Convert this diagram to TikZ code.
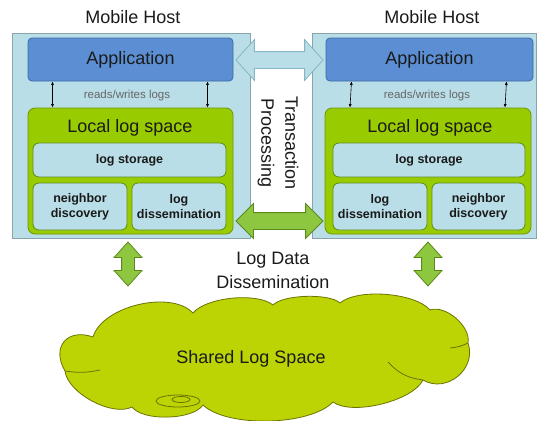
\documentclass[tikz,border=0pt]{standalone}
\usepackage{fontspec}
\setmainfont{Liberation Sans}
\usepackage{tikz}
\usetikzlibrary{shapes.arrows,arrows.meta,positioning}
\definecolor{hostfill}{HTML}{B9DEE7}
\definecolor{hostline}{HTML}{8AA4AC}
\definecolor{appfill}{HTML}{5B8ED2}
\definecolor{appline}{HTML}{3C6AAA}
\definecolor{logfill}{HTML}{99CC00}
\definecolor{logline}{HTML}{6E9600}
\definecolor{partline}{HTML}{5E8A18}
\definecolor{arrowgreen}{HTML}{8DC63F}
\definecolor{arrowline}{HTML}{5D8A1C}
\definecolor{cloudfill}{HTML}{BCD304}
\definecolor{cloudline}{HTML}{6B7400}
\definecolor{txline}{HTML}{86B6C3}
\definecolor{dark}{HTML}{1A1A1A}

\begin{document}
\begin{tikzpicture}[x=1pt, y=1pt,
    host/.style={rectangle, draw=hostline, fill=hostfill, line width=0.8pt, minimum height=205pt, inner sep=0pt},
    appbox/.style={rectangle, rounded corners=4pt, draw=appline, fill=appfill, line width=0.8pt, minimum height=43pt, inner sep=0pt, text=dark, font=\fontsize{18}{22}\selectfont},
    logspace/.style={rectangle, rounded corners=7pt, draw=logline, fill=logfill, line width=0.8pt, minimum height=126pt, inner sep=0pt},
    part/.style={rectangle, rounded corners=6pt, draw=partline, fill=hostfill, line width=0.8pt, inner sep=0pt, align=center, text=dark, font=\fontsize{12.5}{15}\selectfont\bfseries},
    bigtext/.style={text=dark, align=center, font=\fontsize{18}{24}\selectfont},
    rwtext/.style={text=black!60, font=\fontsize{11.5}{13}\selectfont},
    rw/.style={{Latex[length=3.5pt,width=3pt]}-{Latex[length=3.5pt,width=3pt]}, line width=0.6pt},
    greenarrow/.style={double arrow, draw=arrowline, fill=arrowgreen, line width=0.8pt, inner xsep=0pt},
    cloudedge/.style={draw=cloudline, line width=0.8pt}
]
    \useasboundingbox (0,0) rectangle (539,-421);

    \node[host, minimum width=238pt] (host1) at (131,-135.5) {};
    \node[host, minimum width=224pt] (host2) at (424,-135.5) {};
    \node[bigtext] (title1) at (133,-17) {Mobile Host};
    \node[bigtext] (title2) at (432,-17) {Mobile Host};

    \node[appbox, minimum width=205pt] (app1) at (130.5,-59.5) {Application};
    \node[appbox, minimum width=207pt] (app2) at (429.5,-59.5) {Application};

    \node[logspace, minimum width=205pt] (local1) at (130.5,-171) {};
    \node[logspace, minimum width=206pt] (local2) at (428,-171) {};
    \node[bigtext] (locallabel1) at (130,-128) {Local log space};
    \node[bigtext] (locallabel2) at (430,-128) {Local log space};

    \node[part, minimum width=193pt, minimum height=34pt] (storage1) at (129.5,-160) {log storage};
    \node[part, minimum width=192pt, minimum height=34pt] (storage2) at (429,-160) {log storage};
    \node[part, minimum width=94pt, minimum height=47pt] (neighbor1) at (80,-206.5) {neighbor\\discovery};
    \node[part, minimum width=94pt, minimum height=47pt] (dissem1) at (179,-206.5) {log\\dissemination};
    \node[part, minimum width=94pt, minimum height=47pt] (dissem2) at (380,-206.5) {log\\dissemination};
    \node[part, minimum width=93pt, minimum height=47pt] (neighbor2) at (478.5,-206.5) {neighbor\\discovery};

    \draw[rw] ([xshift=-78pt]app1.south) -- ([xshift=-78pt]local1.north);
    \draw[rw] ([xshift=77pt]app1.south) -- ([xshift=77pt]local1.north);
    \draw[rw] ([xshift=-78pt]app2.south) -- ([xshift=-78pt]local2.north);
    \draw[rw] ([xshift=77pt]app2.south) -- ([xshift=77pt]local2.north);
    \node[rwtext] (rwlabel1) at (127,-96) {reads/writes logs};
    \node[rwtext] (rwlabel2) at (427,-96) {reads/writes logs};

    \node[double arrow, draw=txline, fill=hostfill, line width=0.8pt, inner xsep=0pt, inner ysep=8pt, minimum height=87pt, double arrow head extend=12pt, double arrow tip angle=96] (txarrow) at (279.5,-60) {};
    \node[greenarrow, inner ysep=8pt, minimum height=87pt, double arrow head extend=9pt, double arrow tip angle=90] (ldarrow) at (279.5,-221) {};
    \node[bigtext, rotate=-90] (txlabel) at (278,-143) {Transaction\\Processing};
    \node[bigtext] (ldlabel) at (273,-270) {Log Data\\Dissemination};

    \node[greenarrow, rotate=90, inner ysep=6pt, minimum height=44pt, double arrow head extend=7.5pt, double arrow tip angle=84] (down1) at (128,-264) {};
    \node[greenarrow, rotate=90, inner ysep=6pt, minimum height=44pt, double arrow head extend=7.5pt, double arrow tip angle=84] (down2) at (428,-264) {};

    \draw[cloudedge, fill=cloudfill] (65,-371) to[bend left=70, looseness=1.6] (93,-337)
        to[bend left=60, looseness=0.8] (193,-313) to[bend left=45, looseness=0.65] (273,-305)
        to[bend left=45, looseness=0.55] (340,-303) to[bend left=45, looseness=0.65] (430,-310)
        to[bend left=60, looseness=0.85] (468,-343) to[bend left=70, looseness=1.2] (423,-380)
        to[bend left=50, looseness=0.65] (333,-402) to[bend left=45, looseness=0.65] (203,-405)
        to[bend left=55, looseness=0.65] (132,-407) to[bend left=55, looseness=0.75] (65,-371) -- cycle;
    \draw[cloudedge] (65,-371) to[bend right=10] (100,-370);
    \draw[cloudedge] (468,-343) to[bend left=10] (450,-348);
    \draw[cloudedge] (423,-380) to[bend left=20] (388,-362);
    \draw[cloudedge] (178,-401) ellipse [x radius=22, y radius=6];
    \draw[cloudedge] (181,-399.5) ellipse [x radius=9, y radius=3];
    \node[bigtext] (shared) at (251,-359) {Shared Log Space};
\end{tikzpicture}
\end{document}
